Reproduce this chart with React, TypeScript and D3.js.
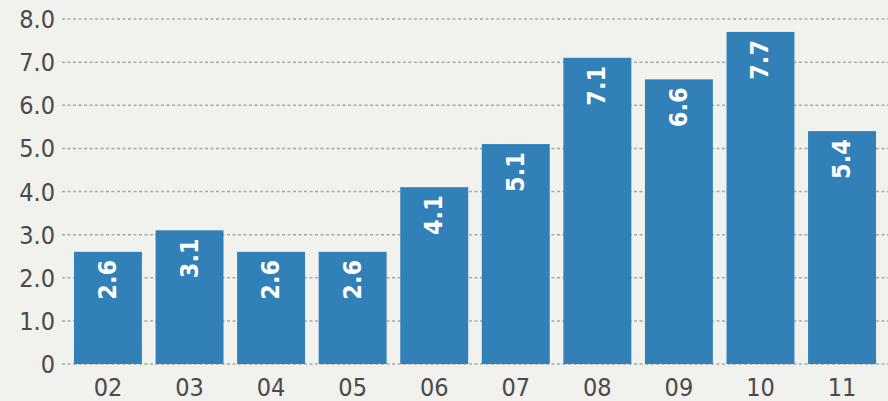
import React from "react";
import * as d3 from "d3";

const categories = ["02", "03", "04", "05", "06", "07", "08", "09", "10", "11"];
const values = [2.6, 3.1, 2.6, 2.6, 4.1, 5.1, 7.1, 6.6, 7.7, 5.4];
const yTicks = [0, 1, 2, 3, 4, 5, 6, 7, 8];

const W = 888;
const H = 401;
const FONT = "'DejaVu Sans Condensed', 'Roboto', sans-serif";

export default function App() {
  const x = d3
    .scaleBand<string>()
    .domain(categories)
    .range([62, 888])
    .paddingInner(0.167)
    .paddingOuter(0.147);
  const y = d3.scaleLinear().domain([0, 8]).range([364, 19]);

  return (
    <svg
      width={W}
      height={H}
      style={{ position: "absolute", left: 0, top: 0, background: "#f1f1ed" }}
    >
      <rect x={0} y={0} width={W} height={H} fill="#f1f1ed" />
      {yTicks.map((t) => (
        <g key={t}>
          <line
            x1={62}
            x2={888}
            y1={y(t)}
            y2={y(t)}
            stroke="#a9a9a5"
            strokeWidth={1.5}
            strokeDasharray="3,2.5"
          />
          <text
            x={55}
            y={y(t)}
            dy="0.36em"
            textAnchor="end"
            fontFamily={FONT}
            fontSize={25}
            fill="#4a4a4a"
          >
            {t === 0 ? "0" : d3.format(".1f")(t)}
          </text>
        </g>
      ))}
      {categories.map((c, i) => {
        const bx = x(c)!;
        const bw = x.bandwidth();
        const top = y(values[i]);
        return (
          <g key={c}>
            <rect x={bx} y={top} width={bw} height={y(0) - top} fill="#3180b8" />
            <text
              transform={`translate(${bx + bw / 2 - 1},${top + 8}) rotate(-90)`}
              textAnchor="end"
              dy="0.36em"
              fontFamily={FONT}
              fontWeight="bold"
              fontSize={25}
              fill="#ffffff"
            >
              {d3.format(".1f")(values[i])}
            </text>
            <text
              x={bx + bw / 2}
              y={396}
              textAnchor="middle"
              fontFamily={FONT}
              fontSize={25}
              fill="#4a4a4a"
            >
              {c}
            </text>
          </g>
        );
      })}
    </svg>
  );
}
